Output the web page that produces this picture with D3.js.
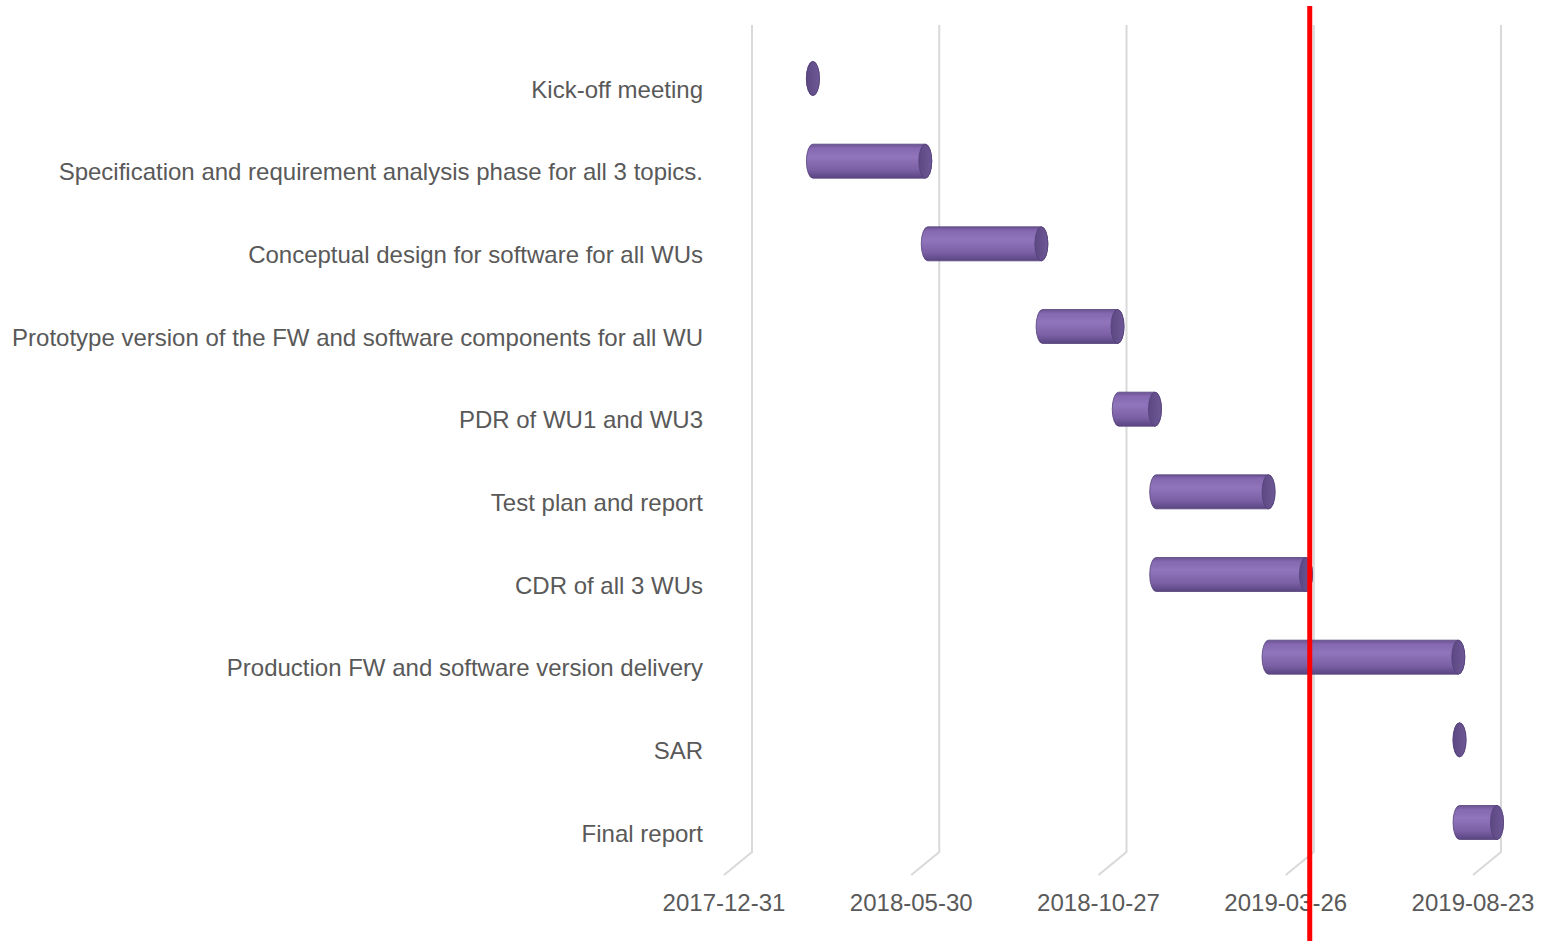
<!DOCTYPE html>
<html>
<head>
<meta charset="utf-8">
<script src="https://cdn.jsdelivr.net/npm/d3@7"></script>
<style>
  body { margin: 0; background: #fff; }
  svg text { font-family: "Liberation Sans", Arial, sans-serif; fill: #595959; }
</style>
</head>
<body>
<div id="gantt"></div>
<script>
// task data
var taskNames = [
  "Kick-off meeting",
  "Specification and requirement analysis phase for all 3 topics.",
  "Conceptual design for software for all WUs",
  "Prototype version of the FW and software components for all WU",
  "PDR of WU1 and WU3",
  "Test plan and report",
  "CDR of all 3 WUs",
  "Production FW and software version delivery",
  "SAR",
  "Final report"
];
var taskStarts = ["2018-03-01", "2018-03-01", "2018-06-01", "2018-09-01", "2018-11-01",
                  "2018-12-01", "2018-12-01", "2019-03-01", "2019-08-01", "2019-08-01"];
var taskEnds   = ["2018-03-01", "2018-05-30", "2018-08-31", "2018-10-31", "2018-11-30",
                  "2019-03-01", "2019-03-31", "2019-07-31", "2019-08-01", "2019-08-31"];
var tickLabels = ["2017-12-31", "2018-05-30", "2018-10-27", "2019-03-26", "2019-08-23"];
var todayDate = "2019-04-03";

var parse = d3.timeParse("%Y-%m-%d");
var width = 1542, height = 941;

var svg = d3.select("#gantt").append("svg")
    .attr("width", width)
    .attr("height", height);

// front plane scale (axis labels), back wall is shifted by depth
var x = d3.scaleTime()
    .domain([parse(tickLabels[0]), parse(tickLabels[tickLabels.length - 1])])
    .range([724, 1473]);
var y = d3.scalePoint()
    .domain(taskNames)
    .range([90, 834]);

var depthX = 28, depthY = -23;
var wallTop = 25, wallBottom = 852;

// gradients for the cylinders
var defs = svg.append("defs");
var body = defs.append("linearGradient").attr("id", "cylBody")
    .attr("x1", 0).attr("y1", 0).attr("x2", 0).attr("y2", 1);
body.append("stop").attr("offset", "0%").attr("stop-color", "#6b5392");
body.append("stop").attr("offset", "12%").attr("stop-color", "#8568b0");
body.append("stop").attr("offset", "38%").attr("stop-color", "#9075bc");
body.append("stop").attr("offset", "75%").attr("stop-color", "#7b60a5");
body.append("stop").attr("offset", "100%").attr("stop-color", "#5a4581");
var cap = defs.append("linearGradient").attr("id", "cylCap")
    .attr("x1", 0).attr("y1", 0).attr("x2", 1).attr("y2", 0);
cap.append("stop").attr("offset", "0%").attr("stop-color", "#5c4882");
cap.append("stop").attr("offset", "100%").attr("stop-color", "#6e5897");

// gridlines on the back wall + floor
svg.append("g").selectAll("path")
    .data(tickLabels)
    .enter().append("path")
    .attr("d", function (d) {
        var fx = x(parse(d));
        return "M" + (fx + depthX) + "," + wallTop +
               "L" + (fx + depthX) + "," + wallBottom +
               "L" + fx + "," + (wallBottom - depthY);
    })
    .style("fill", "none")
    .style("stroke", "#d9d9d9")
    .style("stroke-width", 2);

// date labels
svg.append("g").selectAll("text")
    .data(tickLabels)
    .enter().append("text")
    .attr("x", function (d) { return x(parse(d)); })
    .attr("y", 911)
    .style("text-anchor", "middle")
    .style("font-size", "24px")
    .text(function (d) { return d; });

// category labels
svg.append("g").selectAll("text")
    .data(taskNames)
    .enter().append("text")
    .attr("x", 703)
    .attr("y", function (d) { return y(d) + 7.5; })
    .style("text-anchor", "end")
    .style("font-size", "24px")
    .text(function (d) { return d; });

// cylinders sit at half depth
var rx = 6.5, ry = 17;
var tasks = taskNames.map(function (n, i) {
    return { name: n, start: parse(taskStarts[i]), end: parse(taskEnds[i]) };
});
var bars = svg.append("g").selectAll("g")
    .data(tasks)
    .enter().append("g");

bars.append("path")
    .attr("d", function (d) {
        var x0 = x(d.start) + depthX / 2, x1 = x(d.end) + depthX / 2;
        var cy = y(d.name) + depthY / 2;
        return "M" + x0 + "," + (cy - ry) + "L" + x1 + "," + (cy - ry) +
               "A" + rx + "," + ry + " 0 0 1 " + x1 + "," + (cy + ry) +
               "L" + x0 + "," + (cy + ry) +
               "A" + rx + "," + ry + " 0 0 1 " + x0 + "," + (cy - ry) + "Z";
    })
    .style("fill", "url(#cylBody)")
    .style("stroke", "#54417a")
    .style("stroke-width", 0.8);

bars.append("ellipse")
    .attr("cx", function (d) { return x(d.end) + depthX / 2; })
    .attr("cy", function (d) { return y(d.name) + depthY / 2; })
    .attr("rx", rx)
    .attr("ry", ry)
    .style("fill", "url(#cylCap)")
    .style("stroke", "#54417a")
    .style("stroke-width", 0.8);

// today marker
svg.append("line")
    .attr("x1", x(parse(todayDate)) + depthX / 2)
    .attr("x2", x(parse(todayDate)) + depthX / 2)
    .attr("y1", 6)
    .attr("y2", height)
    .style("stroke", "#ff0000")
    .style("stroke-width", 5);
</script>
</body>
</html>
